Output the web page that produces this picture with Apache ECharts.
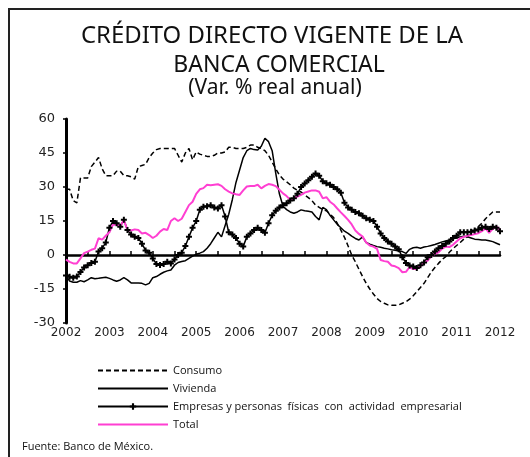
<!DOCTYPE html>
<html>
<head>
<meta charset="utf-8">
<script src="https://cdn.jsdelivr.net/npm/echarts@6/dist/echarts.min.js"></script>
<style>
  html, body { margin: 0; padding: 0; background: #fff; }
  #chart { width: 530px; height: 457px; }
</style>
</head>
<body>
<div id="chart"></div>
<script>
// datos mensuales ene-2002 .. ene-2012 (var. % real anual)
var years = ['2002', '2003', '2004', '2005', '2006', '2007', '2008', '2009', '2010', '2011', '2012'];
var yTicks = [-30, 60, 15];

var consumo = [
  29, 29, 24, 23, 34, 34, 34, 39, 41, 43, 38, 35,
  35, 35, 37, 37, 35, 35, 34.5, 33.5, 39, 39.5, 40, 43,
  45, 46.5, 47, 47, 47, 47, 47, 44, 41, 45, 47, 42,
  45.5, 44.5, 44, 43.5, 43.5, 44, 45, 45, 45.5, 47.5, 47.5, 47,
  47, 47, 47.5, 48.5, 48.5, 47.5, 47, 46, 44, 41, 38, 35.3,
  33.5, 32.3, 31, 29.5, 28.5, 27.8, 26.5, 25.3, 24, 22, 21, 20,
  19.5, 18, 16.5, 14, 11, 7.8, 4, 0, -3, -6.3, -9.5, -12.5,
  -15, -17.2, -19.2, -20.5, -21.3, -22, -22.2, -22.2, -22, -21.3, -20.6, -19.5,
  -18, -16.2, -14.3, -12.5, -10, -7.5, -5.5, -3.7, -2, -0.7, 1.2, 2.8,
  4.2, 5.5, 7, 8, 9.5, 11, 12.5, 14, 16, 17.5, 19, 19,
  19
];
var vivienda = [
  -9, -11.5, -12, -12, -11.3, -11.8, -11, -10, -10.5, -10.3, -10, -9.8,
  -10.3, -11, -11.6, -11, -10, -11, -12.3, -12.4, -12.4, -12.5, -13.2, -12.5,
  -10, -9.5, -8.5, -7.6, -7, -6.6, -4.5, -3.3, -2.9, -2.5, -1.5, -0.5,
  0.3, 0.8, 1.5, 3, 5, 7.5, 10, 8, 13, 18, 24.5, 32,
  37.5, 43, 46, 47, 46.5, 46.3, 48, 51.5, 50, 46, 36, 27,
  21.5, 20, 19, 18.4, 19, 19.9, 19.5, 19.3, 19, 17, 15.5, 21,
  20, 17.5, 15.5, 13.5, 12, 10.5, 9.5, 8.3, 7.3, 6.6, 8, 5.5,
  4.8, 4.2, 3.7, 3.4, 3, 2.7, 2.3, 2.1, 1.8, 1.5, 0.7, 2.5,
  3.2, 3.4, 3, 3.5, 3.8, 4.2, 4.6, 5.2, 5.8, 6.2, 6.6, 7.2,
  7.5, 8, 8.3, 8, 7.5, 7, 6.8, 6.6, 6.6, 6.3, 5.9, 5.2,
  4.5
];
var empresas = [
  -9, -9.6, -10, -9.5, -7.5, -5.5, -4.5, -3.5, -3, 1.5, 3, 5.5,
  12, 15, 14, 12.5, 15.5, 11, 9, 8, 7.5, 5, 2, 1,
  -1.5, -4, -4.4, -4, -3, -3.7, -2, 0, 1, 4, 8, 12,
  15, 20, 21.3, 21.5, 22, 21, 20.5, 22, 17, 10, 9, 7.5,
  5, 3.8, 8, 9.5, 11, 12, 11, 9.8, 14, 17.5, 19.5, 21,
  22, 22.8, 24, 25, 27, 30, 31.5, 33, 34.5, 36, 35, 32.5,
  31.6, 31, 30, 29, 27.5, 23, 21, 20, 19, 18.4, 17.3, 16.2,
  15.6, 15, 12.5, 9.5, 7.5, 6, 5, 3.7, 2.5, -1, -3.5, -4.6,
  -5.1, -5.7, -4.5, -3.3, -1, 0, 1.5, 3, 4, 5, 6, 7.5,
  8.5, 10, 10, 10, 10.3, 10.8, 11.2, 12, 12.5, 11.5, 12.5, 12,
  10.5
];
var total = [
  -2, -3, -3.7, -3.7, -1.5, 0.8, 1.5, 2.3, 2.8, 7.4, 6.8, 8.5,
  10, 13.5, 13.3, 12.8, 15.3, 11, 10.8, 11.3, 11, 9.5, 9.8, 8.8,
  7.5, 8.5, 10.3, 11.5, 11, 15, 16.2, 15, 16, 19, 22, 23.5,
  27, 29, 29.5, 31, 30.8, 31, 31.2, 30.5, 29, 28, 27.2, 26.8,
  26.5, 28.5, 30.2, 30.4, 30.4, 31, 29.4, 30.5, 31.3, 31, 30.4, 28.8,
  27.2, 26, 24.3, 25, 25.8, 26.5, 27.5, 28, 28.5, 28.5, 27.9, 25,
  25.5, 23.5, 22.3, 20.5, 18.8, 17.2, 15.5, 13.5, 10.8, 9.3, 8.1, 5.5,
  4.2, 3.7, 2.7, -2.2, -2.7, -3, -4.6, -5, -5.8, -7.6, -7.4, -5.3,
  -6.2, -6.2, -5, -3.5, -2.5, -0.5, 0.5, 1.2, 2.8, 3.7, 3.5, 4.5,
  6, 7.4, 8, 8.5, 8.8, 9.2, 9.6, 10.5, 11.8, 9.8, 11.5, 12.5,
  11.3
];

// categorias mensuales
var months = [];
for (var y = 0; y < years.length; y++) {
  for (var m = 1; m <= 12; m++) {
    if (y === years.length - 1 && m > 1) break;
    months.push(years[y] + '-' + (m < 10 ? '0' + m : m));
  }
}

var chart = echarts.init(document.getElementById('chart'));
var plus = 'path://M-1,-3H1V-1H3V1H1V3H-1V1H-3V-1H-1Z';
var titleFont = '"Noto Sans", sans-serif';
var empName = 'Empresas y personas  físicas  con  actividad  empresarial';

// lineas del titulo (ancho ajustado con scaleX)
function titleLine(txt, x, y, size, sx) {
  return {
    type: 'text', x: x, y: y, scaleX: sx,
    style: { text: txt, x: 0, y: 0, align: 'center', verticalAlign: 'middle', font: size + 'px ' + titleFont, fill: '#111' }
  };
}

var option = {
  animation: false,
  backgroundColor: '#fff',
  textStyle: { fontFamily: 'DejaVu Sans' },
  graphic: [
    { type: 'rect', shape: { x: 9, y: 9, width: 600, height: 600 }, style: { fill: 'none', stroke: '#222', lineWidth: 2 } },
    titleLine('CRÉDITO DIRECTO VIGENTE DE LA', 272, 36, 23, 1.04),
    titleLine('BANCA COMERCIAL', 279, 65, 23, 1.0),
    titleLine('(Var. % real anual)', 275, 88, 21, 1.0),
    { type: 'text', left: 22, top: 441, style: { text: 'Fuente: Banco de México.', font: '11px "Open Sans"', fill: '#111' } }
  ],
  legend: {
    orient: 'vertical',
    left: 92,
    top: 360,
    itemWidth: 70,
    itemHeight: 8,
    itemGap: 7,
    textStyle: { fontFamily: 'Open Sans', fontSize: 11, color: '#111' },
    data: [
      { name: 'Consumo', itemStyle: { opacity: 0 } },
      { name: 'Vivienda', itemStyle: { opacity: 0 } },
      { name: empName },
      { name: 'Total', itemStyle: { opacity: 0 } }
    ]
  },
  grid: { left: 66, right: 30, top: 119, bottom: 134 },
  xAxis: [
    {
      type: 'category',
      data: months,
      boundaryGap: false,
      axisLine: { show: false, onZero: false },
      axisTick: { show: false },
      axisLabel: {
        interval: function (i) { return i % 12 === 0; },
        formatter: function (v) { return v.slice(0, 4); },
        fontSize: 12,
        color: '#222',
        margin: 4
      }
    },
    {
      type: 'category',
      data: months,
      boundaryGap: false,
      position: 'bottom',
      axisLine: { show: true, onZero: true, lineStyle: { color: '#000', width: 2.5 } },
      axisTick: { show: true, inside: true, length: 4, interval: function (i) { return i % 6 === 0; }, lineStyle: { color: '#000', width: 1.5 } },
      axisLabel: { show: false }
    }
  ],
  yAxis: {
    type: 'value',
    min: yTicks[0],
    max: yTicks[1],
    interval: yTicks[2],
    axisLine: { show: true, lineStyle: { color: '#000', width: 3 } },
    axisTick: { show: true, inside: false, length: 3, lineStyle: { color: '#000', width: 1.5 } },
    axisLabel: { fontSize: 13, color: '#222', margin: 11 },
    splitLine: { show: false }
  },
  series: [
    {
      name: 'Consumo', type: 'line', data: consumo, symbol: 'none',
      lineStyle: { color: '#000', width: 1.5, type: [5, 3] }, itemStyle: { color: '#000' }
    },
    {
      name: 'Vivienda', type: 'line', data: vivienda, symbol: 'none',
      lineStyle: { color: '#000', width: 1.5 }, itemStyle: { color: '#000' }
    },
    {
      name: empName, type: 'line', data: empresas,
      symbol: plus, symbolSize: 6, showAllSymbol: true,
      lineStyle: { color: '#000', width: 1.5 }, itemStyle: { color: '#000' }
    },
    {
      name: 'Total', type: 'line', data: total, symbol: 'none',
      lineStyle: { color: '#ff3fd2', width: 2 }, itemStyle: { color: '#ff3fd2' }
    }
  ]
};
chart.setOption(option);
</script>
</body>
</html>
